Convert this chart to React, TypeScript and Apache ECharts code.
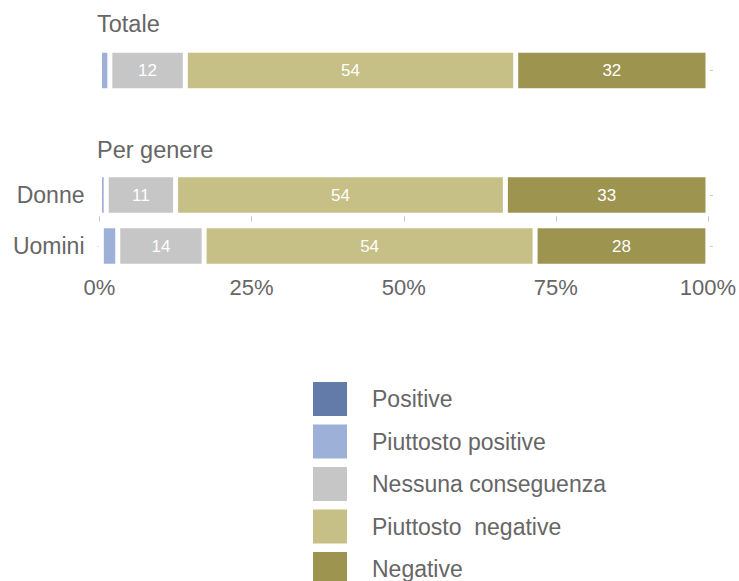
import React, { useEffect, useRef } from "react";
import * as echarts from "echarts";

const seriesNames = ["Positive", "Piuttosto positive", "Nessuna conseguenza", "Piuttosto  negative", "Negative"];
const colors = ["#637ba8", "#9cb0d8", "#c6c6c6", "#c6c086", "#9c944f"];
const rowCategories = ["Totale", "Donne", "Uomini"];
const totaleValues = [0, 1.7, 12.4, 54.3, 31.6];
const donneValues = [0, 1.1, 11.4, 54.2, 33.3];
const uominiValues = [0.3, 2.7, 14.2, 54.4, 28.4];
const xTicks = [0, 25, 50, 75, 100];
const titles = ["Totale", "Per genere"];

const FONT = "'Liberation Sans', Arial, Helvetica, sans-serif";
const TEXT = "#666666";

export default function App() {
  const ref = useRef<HTMLDivElement>(null);
  useEffect(() => {
    if (!ref.current) return;
    const chart = echarts.init(ref.current, null, { renderer: "svg" });
    const rows = [totaleValues, donneValues, uominiValues];
    const grids = [
      { left: 99.5, right: 31, top: 45.5, height: 50 },
      { left: 99.5, right: 31, top: 174, height: 42 },
      { left: 99.5, right: 31, top: 226, height: 40 },
    ];
    const xAxes = grids.map((_, i) => ({
      type: "value",
      gridIndex: i,
      min: 0,
      max: 100,
      interval: 25,
      show: i > 0,
      axisLine: { show: false },
      splitLine: { show: false },
      axisTick: { show: i === 1, length: 6, lineStyle: { color: "#cccccc", width: 1 } },
      axisLabel: {
        show: i === 2,
        formatter: (v: number) => (xTicks.includes(v) ? v + "%" : ""),
        fontSize: 22,
        color: TEXT,
        fontFamily: FONT,
        margin: 10,
      },
    }));
    const yAxes: any[] = [];
    grids.forEach((_, i) => {
      yAxes.push({
        type: "category",
        gridIndex: i,
        data: [rowCategories[i]],
        axisLine: { show: false },
        axisTick: { show: true, alignWithLabel: true, length: 2, lineStyle: { color: "#dddddd" } },
        axisLabel: {
          show: i > 0,
          fontSize: 23,
          color: TEXT,
          fontFamily: FONT,
          margin: 15,
        },
      });
      yAxes.push({
        type: "category",
        gridIndex: i,
        position: "right",
        offset: 2,
        data: [rowCategories[i]],
        axisLine: { show: false },
        axisTick: { show: true, alignWithLabel: true, length: 3, lineStyle: { color: "#cccccc" } },
        axisLabel: { show: false },
      });
    });
    const series: any[] = [];
    rows.forEach((vals, gi) => {
      seriesNames.forEach((name, si) => {
        series.push({
          type: "bar",
          name,
          stack: "s" + gi,
          xAxisIndex: gi,
          yAxisIndex: gi * 2,
          barWidth: 40.5,
          data: [vals[si]],
          itemStyle: { color: colors[si], borderColor: "#ffffff", borderWidth: 2.5 },
          label: {
            show: true,
            position: "inside",
            color: "#ffffff",
            fontSize: 17,
            fontFamily: FONT,
            formatter: (p: any) => (p.value >= 5 ? String(Math.round(p.value)) : ""),
          },
        });
      });
    });
    chart.setOption({
      animation: false,
      backgroundColor: "#ffffff",
      grid: grids,
      xAxis: xAxes,
      yAxis: yAxes,
      series,
      legend: {
        data: seriesNames,
        orient: "vertical",
        left: 313,
        top: 382,
        height: 240,
        padding: 0,
        itemWidth: 34,
        itemHeight: 34,
        itemGap: 8.5,
        icon: "rect",
        selectedMode: false,
        itemStyle: { borderWidth: 0 },
        textStyle: { fontSize: 23, color: TEXT, fontFamily: FONT, padding: [0, 0, 0, 20] },
      },
      graphic: [
        { type: "text", left: 97, top: 12, style: { text: titles[0], fontSize: 23.5, fill: TEXT, fontFamily: FONT } },
        { type: "text", left: 97, top: 138, style: { text: titles[1], fontSize: 23.5, fill: TEXT, fontFamily: FONT } },
      ],
    });
    return () => chart.dispose();
  }, []);
  return <div ref={ref} style={{ position: "absolute", left: 0, top: 0, width: 739, height: 581 }} />;
}
